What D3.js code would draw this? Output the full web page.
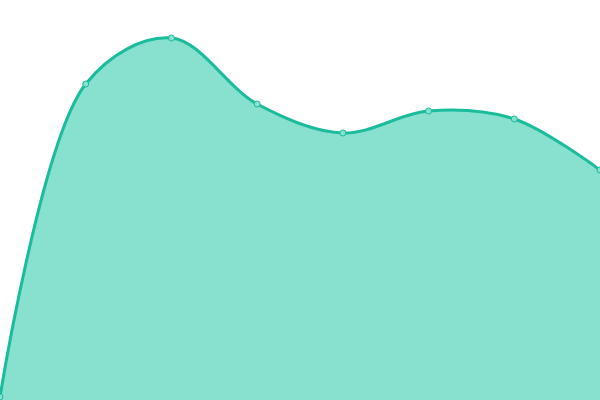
<!DOCTYPE html>
<html>
<head>
<meta charset="utf-8">
<script src="https://cdn.jsdelivr.net/npm/d3@7"></script>
<style>
  html, body { margin: 0; padding: 0; background: #fff; }
  svg { display: block; }
</style>
</head>
<body>
<svg id="chart" width="600" height="400"></svg>
<script>
var categories = ["A", "B", "C", "D", "E", "F", "G", "H"];
var values = [0.75, 79, 90.5, 74, 66.75, 72.25, 70.25, 57.5];

var svg = d3.select("svg#chart"),
    width = +svg.attr("width"),
    height = +svg.attr("height");

var x = d3.scalePoint()
    .domain(categories)
    .range([0, width]);

var y = d3.scaleLinear()
    .domain([0, 100])
    .range([height, 0]);

var data = categories.map(function(c, i) { return {cat: c, v: values[i]}; });

var curve = d3.curveCatmullRom.alpha(0.5);

var area = d3.area()
    .x(function(d) { return x(d.cat); })
    .y0(height)
    .y1(function(d) { return y(d.v); })
    .curve(curve);

var line = d3.line()
    .x(function(d) { return x(d.cat); })
    .y(function(d) { return y(d.v); })
    .curve(curve);

svg.append("path")
    .datum(data)
    .attr("d", area)
    .style("fill", "#88e0cf");

svg.append("path")
    .datum(data)
    .attr("d", line)
    .style("fill", "none")
    .style("stroke", "#1abc9c")
    .style("stroke-width", 3);

svg.selectAll(".dot")
    .data(data)
    .enter().append("circle")
      .attr("class", "dot")
      .attr("cx", function(d) { return x(d.cat); })
      .attr("cy", function(d) { return y(d.v); })
      .attr("r", 3)
      .style("fill", "#88e0cf")
      .style("stroke", "#1abc9c")
      .style("stroke-width", 1);
</script>
</body>
</html>
